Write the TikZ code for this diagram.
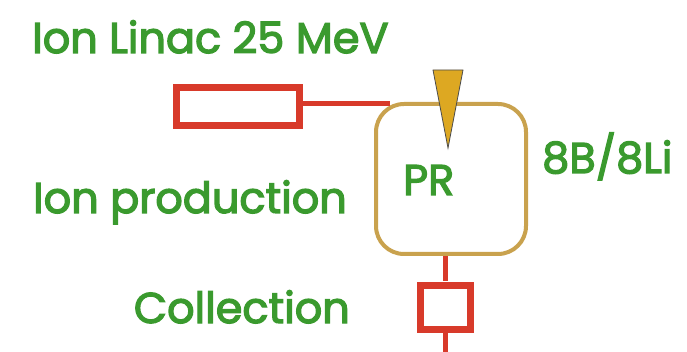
\documentclass[tikz,border=0pt]{standalone}
\usepackage{fontspec}
\newfontfamily\lblfont{Poppins}[BoldFont=Poppins,BoldFeatures={FakeBold=3}]
\definecolor{labelgreen}{HTML}{3A9A2E}
\definecolor{beamred}{HTML}{D83A2A}
\definecolor{targetgold}{HTML}{C9A24E}
\definecolor{conefill}{HTML}{DDA822}
\begin{document}
\begin{tikzpicture}[x=1pt,y=-1pt,
  lbl/.style={text=labelgreen,font=\lblfont\bfseries\fontsize{43}{48}\selectfont,inner sep=0pt},
  beam/.style={draw=beamred,line width=7pt},
  pipe/.style={draw=beamred,line width=5pt},
  target/.style={draw=targetgold,line width=4pt,rounded corners=28pt,fill=white}]
\useasboundingbox (0,0) rectangle (687,352);
% linac
\node[beam,minimum width=123pt,minimum height=38pt,inner sep=0pt] (linac) at (238,107) {};
% production target
\node[target,minimum width=150pt,minimum height=150pt,inner sep=0pt] (pr) at (451,179) {};
\coordinate (prin) at (390,104);
\draw[beam,line width=5pt] (linac.east |- prin) -- (prin);
% collection
\node[beam,minimum width=50pt,minimum height=44pt,inner sep=0pt] (coll) at (445,307) {};
\coordinate (pout) at (445,256);
\coordinate (pend) at (445,352);
\draw[pipe] (pout) -- (coll.north);
\draw[pipe] (coll.south) -- (pend);
% injection cone
\draw[draw=black!70,fill=conefill,line width=0.8pt] (433,70) -- (463,70) -- (448,148) -- cycle;
% labels
\node[lbl,anchor=base west] (t1) at (32,53) {Ion Linac 25 MeV};
\node[lbl,anchor=base west] (t2) at (403,195) {PR};
\node[lbl,anchor=base west] (t3) at (542,173) {8B/8Li};
\node[lbl,anchor=base east] (t4) at (347,213) {Ion production};
\node[lbl,anchor=base east] (t5) at (350,323) {Collection};
\end{tikzpicture}
\end{document}
